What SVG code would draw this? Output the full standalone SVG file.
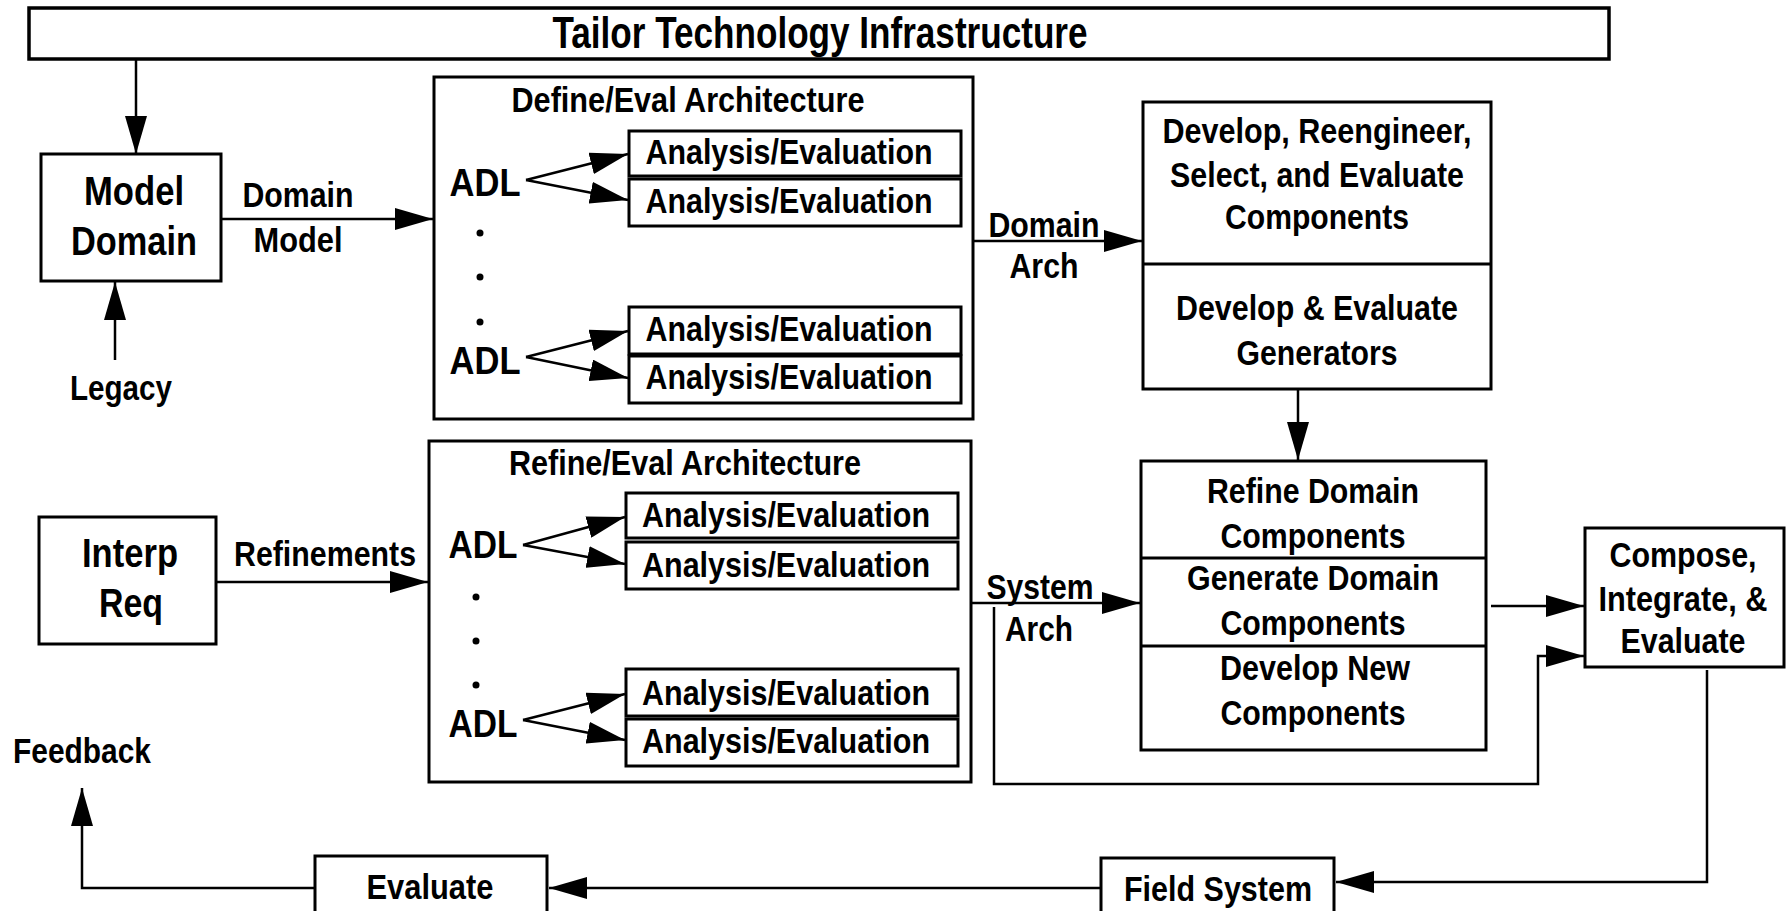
<svg xmlns="http://www.w3.org/2000/svg" width="1790" height="911" viewBox="0 0 1790 911">
<style>
rect.b{fill:#fff;stroke:#000;stroke-width:3}
line.d{stroke:#000;stroke-width:3}
text{font-family:"Liberation Sans",Arial,sans-serif;font-weight:bold;fill:#000;text-anchor:middle;font-size:35px}
text.big{font-size:41px}
text.adl{font-size:39px}
text.ttl{font-size:45px}
.c path{fill:none;stroke:#000;stroke-width:2.5}
circle{fill:#000}
</style>
<defs>
<marker id="ah" markerUnits="userSpaceOnUse" markerWidth="38" markerHeight="22" refX="38" refY="11" orient="auto">
<path d="M0,0 L38,11 L0,22 z" fill="#000"/>
</marker>
</defs>
<rect width="1790" height="911" fill="#fff"/>

<g id="tailor">
<rect class="b" x="29" y="8" width="1580" height="51" style="stroke-width:3.5"/>
<text class="ttl" x="820" y="48" textLength="535" lengthAdjust="spacingAndGlyphs">Tailor Technology Infrastructure</text>
</g>

<g id="model-domain">
<rect class="b" x="41" y="154" width="180" height="127"/>
<text class="big" x="134" y="205" textLength="100" lengthAdjust="spacingAndGlyphs">Model</text>
<text class="big" x="134" y="255" textLength="126" lengthAdjust="spacingAndGlyphs">Domain</text>
</g>

<g id="legacy">
<text x="121" y="400" textLength="102" lengthAdjust="spacingAndGlyphs">Legacy</text>
</g>

<g id="define-eval">
<rect class="b" x="434" y="77" width="539" height="342"/>
<text x="688" y="112" textLength="353" lengthAdjust="spacingAndGlyphs">Define/Eval Architecture</text>
<rect class="b" x="629" y="131" width="332" height="45"/>
<rect class="b" x="629" y="179" width="332" height="47"/>
<rect class="b" x="629" y="307" width="332" height="47"/>
<rect class="b" x="629" y="356" width="332" height="47"/>
<text x="789" y="164" textLength="287" lengthAdjust="spacingAndGlyphs">Analysis/Evaluation</text>
<text x="789" y="213" textLength="287" lengthAdjust="spacingAndGlyphs">Analysis/Evaluation</text>
<text x="789" y="341" textLength="287" lengthAdjust="spacingAndGlyphs">Analysis/Evaluation</text>
<text x="789" y="389" textLength="287" lengthAdjust="spacingAndGlyphs">Analysis/Evaluation</text>
<text class="adl" x="485" y="196" textLength="71" lengthAdjust="spacingAndGlyphs">ADL</text>
<text class="adl" x="485" y="374" textLength="71" lengthAdjust="spacingAndGlyphs">ADL</text>
<circle cx="480" cy="233" r="3.5"/>
<circle cx="480" cy="277" r="3.5"/>
<circle cx="480" cy="322" r="3.5"/>
</g>

<g id="develop">
<rect class="b" x="1143" y="102" width="348" height="287"/>
<line class="d" x1="1143" y1="264" x2="1491" y2="264"/>
<text x="1317" y="143" textLength="309" lengthAdjust="spacingAndGlyphs">Develop, Reengineer,</text>
<text x="1317" y="187" textLength="294" lengthAdjust="spacingAndGlyphs">Select, and Evaluate</text>
<text x="1317" y="229" textLength="184" lengthAdjust="spacingAndGlyphs">Components</text>
<text x="1317" y="320" textLength="282" lengthAdjust="spacingAndGlyphs">Develop &amp; Evaluate</text>
<text x="1317" y="365" textLength="161" lengthAdjust="spacingAndGlyphs">Generators</text>
</g>

<g id="interp-req">
<rect class="b" x="39" y="517" width="177" height="127"/>
<text class="big" x="130" y="567" textLength="96" lengthAdjust="spacingAndGlyphs">Interp</text>
<text class="big" x="131" y="617" textLength="64" lengthAdjust="spacingAndGlyphs">Req</text>
</g>

<g id="refine-eval">
<rect class="b" x="429" y="441" width="542" height="341"/>
<text x="685" y="475" textLength="352" lengthAdjust="spacingAndGlyphs">Refine/Eval Architecture</text>
<rect class="b" x="626" y="493" width="332" height="45"/>
<rect class="b" x="626" y="542" width="332" height="47"/>
<rect class="b" x="626" y="669" width="332" height="47"/>
<rect class="b" x="626" y="719" width="332" height="47"/>
<text x="786" y="527" textLength="288" lengthAdjust="spacingAndGlyphs">Analysis/Evaluation</text>
<text x="786" y="577" textLength="288" lengthAdjust="spacingAndGlyphs">Analysis/Evaluation</text>
<text x="786" y="705" textLength="288" lengthAdjust="spacingAndGlyphs">Analysis/Evaluation</text>
<text x="786" y="753" textLength="288" lengthAdjust="spacingAndGlyphs">Analysis/Evaluation</text>
<text class="adl" x="483" y="558" textLength="69" lengthAdjust="spacingAndGlyphs">ADL</text>
<text class="adl" x="483" y="737" textLength="69" lengthAdjust="spacingAndGlyphs">ADL</text>
<circle cx="476" cy="597" r="3.5"/>
<circle cx="476" cy="641" r="3.5"/>
<circle cx="476" cy="685" r="3.5"/>
</g>

<g id="refine-components">
<rect class="b" x="1141" y="461" width="345" height="289"/>
<line class="d" x1="1141" y1="558" x2="1486" y2="558"/>
<line class="d" x1="1141" y1="646" x2="1486" y2="646"/>
<text x="1313" y="503" textLength="212" lengthAdjust="spacingAndGlyphs">Refine Domain</text>
<text x="1313" y="548" textLength="185" lengthAdjust="spacingAndGlyphs">Components</text>
<text x="1313" y="590" textLength="252" lengthAdjust="spacingAndGlyphs">Generate Domain</text>
<text x="1313" y="635" textLength="185" lengthAdjust="spacingAndGlyphs">Components</text>
<text x="1315" y="680" textLength="190" lengthAdjust="spacingAndGlyphs">Develop New</text>
<text x="1313" y="725" textLength="185" lengthAdjust="spacingAndGlyphs">Components</text>
</g>

<g id="compose">
<rect class="b" x="1585" y="528" width="199" height="139"/>
<text x="1683" y="567" textLength="147" lengthAdjust="spacingAndGlyphs">Compose,</text>
<text x="1683" y="611" textLength="169" lengthAdjust="spacingAndGlyphs">Integrate, &amp;</text>
<text x="1683" y="653" textLength="125" lengthAdjust="spacingAndGlyphs">Evaluate</text>
</g>

<g id="field-system">
<rect class="b" x="1101" y="858" width="233" height="80"/>
<text x="1218" y="901" textLength="188" lengthAdjust="spacingAndGlyphs">Field System</text>
</g>

<g id="evaluate">
<rect class="b" x="315" y="856" width="232" height="80"/>
<text x="430" y="899" textLength="127" lengthAdjust="spacingAndGlyphs">Evaluate</text>
</g>

<g id="feedback">
<text x="82" y="763" textLength="138" lengthAdjust="spacingAndGlyphs">Feedback</text>
</g>

<g id="connectors" class="c">
<path d="M136,60 V154" marker-end="url(#ah)"/>
<path d="M115,360 V282" marker-end="url(#ah)"/>
<path d="M221,219 H433" marker-end="url(#ah)"/>
<path d="M526,180 L628,154" marker-end="url(#ah)"/>
<path d="M526,180 L628,200" marker-end="url(#ah)"/>
<path d="M526,357 L628,331" marker-end="url(#ah)"/>
<path d="M526,357 L628,378" marker-end="url(#ah)"/>
<path d="M973,241 H1142" marker-end="url(#ah)"/>
<path d="M1298,389 V460" marker-end="url(#ah)"/>
<path d="M216,582 H428" marker-end="url(#ah)"/>
<path d="M523,545 L625,517" marker-end="url(#ah)"/>
<path d="M523,545 L625,564" marker-end="url(#ah)"/>
<path d="M523,720 L625,694" marker-end="url(#ah)"/>
<path d="M523,720 L625,740" marker-end="url(#ah)"/>
<path d="M971,603 H1140" marker-end="url(#ah)"/>
<path d="M1491,606 H1584" marker-end="url(#ah)"/>
<path d="M994,607 V784 H1538 V656 H1584" marker-end="url(#ah)"/>
<text x="1044" y="237" textLength="111" lengthAdjust="spacingAndGlyphs">Domain</text>
<text x="1044" y="278" textLength="69" lengthAdjust="spacingAndGlyphs">Arch</text>
<path d="M1707,670 V882 H1336" marker-end="url(#ah)"/>
<path d="M1101,888 H549" marker-end="url(#ah)"/>
<path d="M315,888 H82 V788" marker-end="url(#ah)"/>
<text x="298" y="207" textLength="111" lengthAdjust="spacingAndGlyphs">Domain</text>
<text x="298" y="252" textLength="89" lengthAdjust="spacingAndGlyphs">Model</text>
<text x="325" y="566" textLength="182" lengthAdjust="spacingAndGlyphs">Refinements</text>
<text x="1040" y="599" textLength="107" lengthAdjust="spacingAndGlyphs">System</text>
<text x="1039" y="641" textLength="68" lengthAdjust="spacingAndGlyphs">Arch</text>
</g>
</svg>
